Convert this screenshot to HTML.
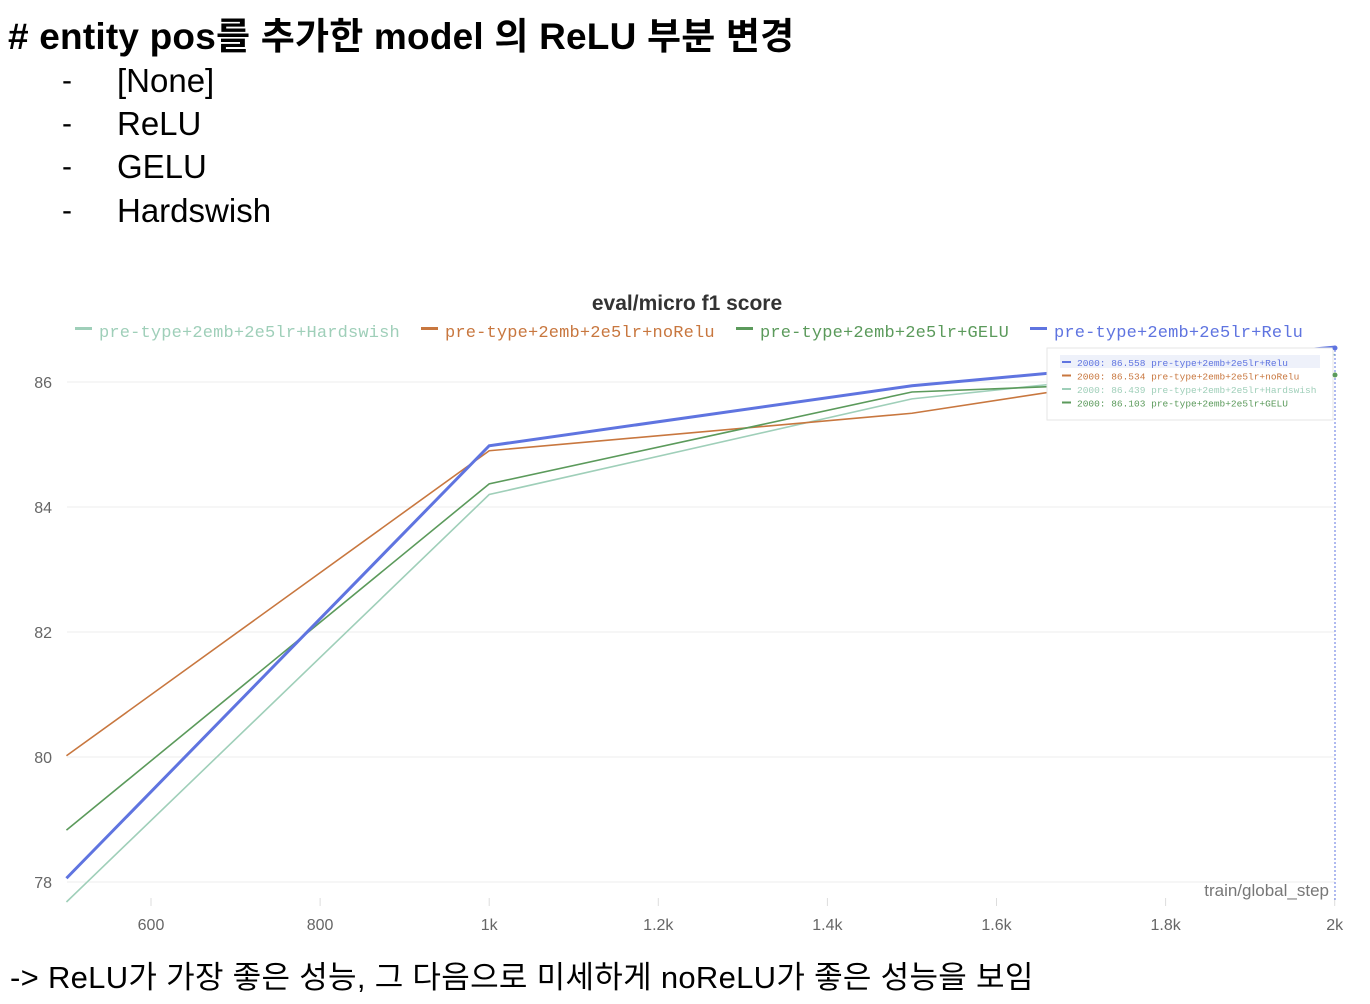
<!DOCTYPE html>
<html><head><meta charset="utf-8"><style>
body{margin:0;background:#fff;width:1370px;height:1004px;overflow:hidden;position:relative;font-family:"Liberation Sans","Noto Sans CJK KR",sans-serif}
.t{position:absolute;left:8px;top:6px;font-size:37px;font-weight:bold;letter-spacing:0.2px;color:#000;white-space:nowrap}
.li{position:absolute;font-size:33px;color:#000;white-space:nowrap}
.d{position:absolute;left:62px;font-size:30px}
.bot{position:absolute;left:10px;top:952px;font-size:31px;letter-spacing:0.3px;color:#000;white-space:nowrap}
</style></head><body>
<div class="t"># entity pos를 추가한 model 의 ReLU 부분 변경</div>
<div class="d" style="top:64px">-</div><div class="li" style="left:117px;top:62px">[None]</div>
<div class="d" style="top:107px">-</div><div class="li" style="left:117px;top:105px">ReLU</div>
<div class="d" style="top:150px">-</div><div class="li" style="left:117px;top:148px">GELU</div>
<div class="d" style="top:194px">-</div><div class="li" style="left:117px;top:192px">Hardswish</div>
<svg id="chart" width="1370" height="1004" style="position:absolute;left:0;top:0"></svg>
<div class="bot">-&gt; ReLU가 가장 좋은 성능, 그 다음으로 미세하게 noReLU가 좋은 성능을 보임</div>
<script>
const steps=[500,1000,1500,2000];
const seriesNames=["pre-type+2emb+2e5lr+Hardswish","pre-type+2emb+2e5lr+noRelu","pre-type+2emb+2e5lr+GELU","pre-type+2emb+2e5lr+Relu"];
const hardswish=[77.68,84.2,85.73,86.439];
const norelu=[80.02,84.9,85.5,86.534];
const gelu=[78.83,84.37,85.84,86.103];
const relu=[78.06,84.98,85.94,86.558];
const yTicks=[78,80,82,84,86];
const xTicks=[600,800,1000,1200,1400,1600,1800,2000];
const xTickLabels=["600","800","1k","1.2k","1.4k","1.6k","1.8k","2k"];
const NS="http://www.w3.org/2000/svg";
const svg=document.getElementById('chart');
const X=s=>151+(s-600)*0.8455;
const Y=v=>382+(86-v)*62.5;
function el(t,a,p){const e=document.createElementNS(NS,t);for(const k in a)e.setAttribute(k,a[k]);(p||svg).appendChild(e);return e;}
const t=el('text',{x:687,y:310,'text-anchor':'middle','font-size':21,fill:'#333','font-weight':'bold','font-family':'Liberation Sans, sans-serif'});t.textContent='eval/micro f1 score';


yTicks.forEach(v=>{const g=el('line',{x1:67,x2:1335,y1:Y(v),y2:Y(v),stroke:'#eee'});


const l=el('text',{x:52,y:Y(v)+6,'text-anchor':'end','font-size':16,fill:'#666'});l.textContent=v;

});
xTicks.forEach((s,i)=>{el('line',{x1:X(s),x2:X(s),y1:898,y2:906,stroke:'#ddd'});
const l=el('text',{x:X(s),y:930,'text-anchor':'middle','font-size':16,fill:'#666'});l.textContent=xTickLabels[i];

});
const xt=el('text',{x:1329,y:896,'text-anchor':'end','font-size':17,fill:'#777'});xt.textContent='train/global_step';


const cols=['#9fcfb9','#c8773f','#5b9a5b','#5f74e0'];
const data=[hardswish,norelu,gelu,relu];
const widths=[1.6,1.6,1.6,3];
data.forEach((d,i)=>{const p=el('polyline',{points:d.map((v,j)=>X(steps[j])+','+Y(v)).join(' '),fill:'none',stroke:cols[i],'stroke-width':widths[i]});

});
const lx=[75,421,736,1030];
seriesNames.forEach((n,i)=>{el('rect',{x:lx[i],y:327,width:17,height:3,fill:cols[i]});
const tx=el('text',{x:lx[i]+24,y:337,'font-size':17,fill:cols[i],'font-family':'Liberation Mono, monospace',textLength:n.length*10.37});tx.textContent=n;

});
el('line',{x1:1335,x2:1335,y1:346,y2:900,stroke:'#5f74e0','stroke-dasharray':'2,2','stroke-width':1});
const tb=el('rect',{x:1047,y:348,width:286,height:72,fill:'#fff',stroke:'#e6e6e6'});


el('rect',{x:1060,y:355,width:260,height:13,fill:'#eef1fa'});
const order=[3,1,0,2];
order.forEach((si,k)=>{const yy=366+k*13.5;el('rect',{x:1062,y:yy-5,width:9,height:2,fill:cols[si]});
const tx=el('text',{x:1077,y:yy,'font-size':9.5,fill:cols[si],'font-family':'Liberation Mono, monospace'});
tx.textContent='2000: '+data[si][3].toFixed(3)+' '+seriesNames[si];

});
el('circle',{cx:1335,cy:348,r:2.5,fill:'#5f74e0'});
el('circle',{cx:1335,cy:375,r:2.5,fill:'#5b9a5b'});
</script>
</body></html>
